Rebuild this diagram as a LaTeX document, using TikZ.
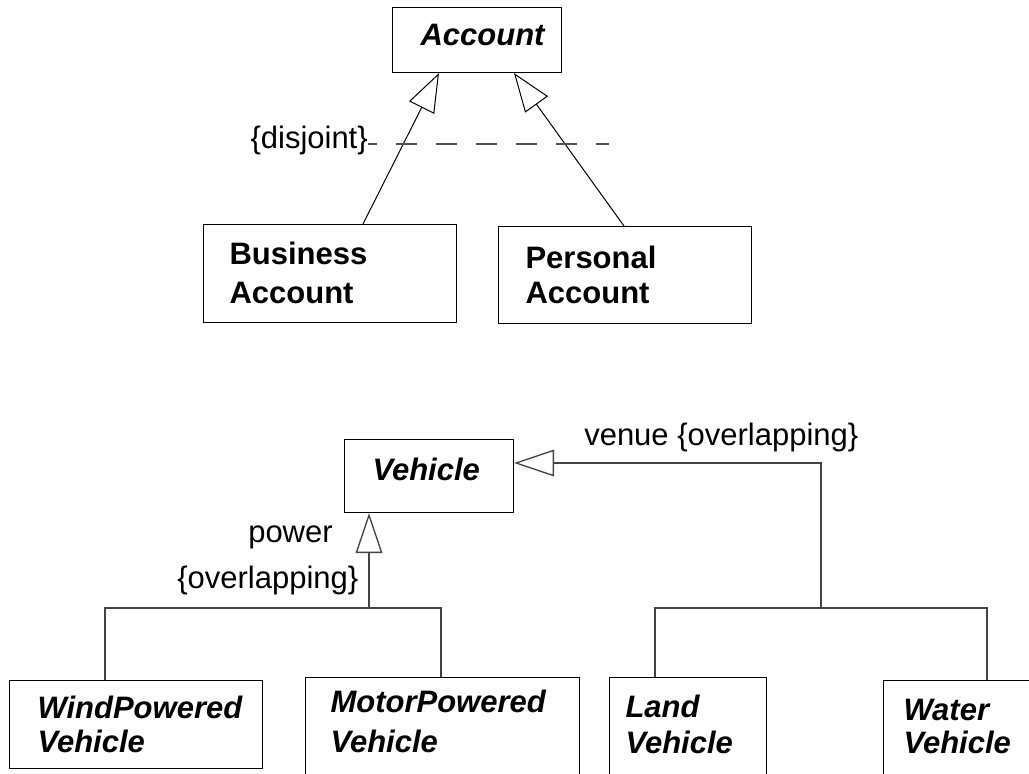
\documentclass[tikz,border=0pt]{standalone}
\usepackage{fontspec}
\setmainfont{Liberation Sans}
\usetikzlibrary{arrows.meta,calc}
\definecolor{lg}{RGB}{68,68,68}
\definecolor{dg}{RGB}{80,80,80}
\begin{document}
\begin{tikzpicture}[x=0.75pt,y=-0.75pt,
  txt/.style={font=\fontsize{23.25}{29.25}\selectfont, inner sep=0pt},
  cls/.style={draw, line width=0.8pt, anchor=north west, inner ysep=0pt, align=left,
    font=\fontsize{23.25}{29.25}\selectfont\bfseries\itshape},
  clsb/.style={cls, font=\fontsize{23.25}{29.25}\selectfont\bfseries},
  gen/.style={line width=0.75pt, -{Triangle[open, length=29pt, width=21pt]}},
  gentwo/.style={draw=lg, line width=1pt, -{Triangle[open, length=30pt, width=20pt]}},
  con/.style={draw=lg, line width=1pt},
  dsh/.style={draw=dg, line width=1pt, dash pattern=on 15.75pt off 14.25pt, dash phase=9pt}]
\useasboundingbox (0,0) rectangle (1029,774);
\clip (0,0) rectangle (1029,774);
\fill[white] (0,0) rectangle (1029,774);

% ---------- Account hierarchy ----------
\node[cls, text width=84.75pt, inner xsep=21pt, text height=28.5pt, text depth=20.25pt] (acc) at (392,7) {Account};
\node[clsb, text width=150.75pt, inner xsep=19.5pt, text height=30pt, text depth=43.5pt] (ba) at (203,224) {Business\\Account};
\node[clsb, text width=149.25pt, inner xsep=20.25pt, text height=31.5pt, text depth=41.25pt] (pa) at (498,226) {Personal\\[-3pt]Account};

\draw[gen] ($(ba.north west)+(160,0)$) -- ($(acc.south west)+(47,0)$);
\draw[gen] ($(pa.north west)+(126,0)$) -- ($(acc.south west)+(122,0)$);

\node[txt, anchor=base east] (dj) at (368,148) {\{disjoint\}};
\coordinate (djend) at (609,144);
\draw[dsh] (dj.east |- djend) -- (djend);

% ---------- Vehicle hierarchy ----------
\node[cls, text width=84.75pt, inner xsep=21pt, text height=30.75pt, text depth=24pt] (veh) at (344,439) {Vehicle};
\node[cls, text width=147.75pt, inner xsep=21pt, text height=28.5pt, text depth=37.5pt] (wind) at (9,680) {WindPowered\\[-3.75pt]Vehicle};
\node[cls, text width=168pt, inner xsep=18.75pt, text height=26.25pt, text depth=66pt] (motor) at (305,677) {MotorPowered\\[0.75pt]Vehicle};
\node[cls, text width=93.75pt, inner xsep=12pt, text height=30pt, text depth=62pt] (land) at (609,677) {Land\\[-2.25pt]Vehicle};
\node[cls, text width=117.75pt, inner xsep=15pt, text height=30pt, text depth=60pt] (water) at (883,680) {Water\\[-4.5pt]Vehicle};

\coordinate (pj) at (369,608);
\draw[gentwo] (pj) -- (pj |- veh.south);
\draw[con] ($(wind.north west)+(96,0)$) |- (pj) -| ($(motor.north west)+(136,0)$);

\coordinate (vj) at (821,608);
\draw[gentwo] (vj) |- ($(veh.north east)+(0,24)$);
\draw[con] ($(land.north west)+(46,0)$) |- (vj) -| ($(water.north west)+(104,0)$);

\node[txt, anchor=base west] (pw) at (248,542) {power};
\node[txt, anchor=base west] (ov) at (177,588) {\{overlapping\}};
\node[txt, anchor=base west] (vn) at (584,445) {venue \{overlapping\}};
\end{tikzpicture}
\end{document}
